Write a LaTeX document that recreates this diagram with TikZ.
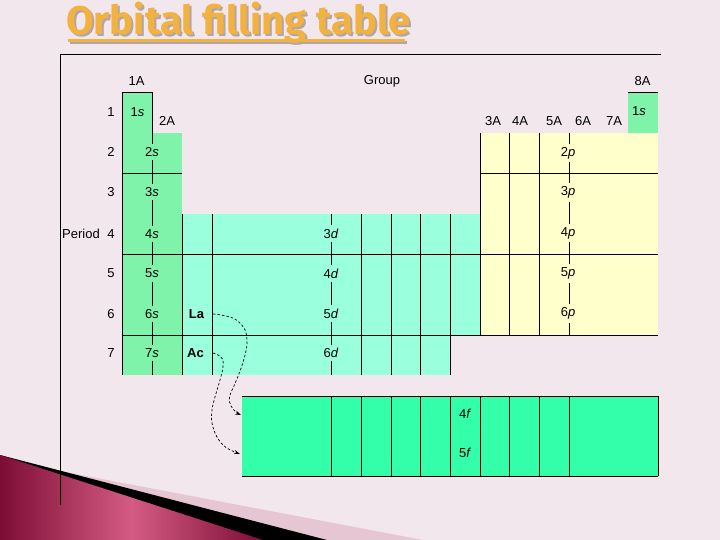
\documentclass[tikz,border=0pt]{standalone}
\usepackage{fontspec}
\setmainfont{Liberation Sans}
\newfontfamily\titlefont{Fira Sans}
\usetikzlibrary{arrows.meta}
\definecolor{bgpink}{RGB}{243,231,238}
\definecolor{rosy}{RGB}{230,198,211}
\definecolor{maroonD}{RGB}{125,12,52}
\definecolor{maroonL}{RGB}{212,92,132}
\definecolor{sgreen}{RGB}{128,243,170}
\definecolor{dcol}{RGB}{153,255,221}
\definecolor{pcol}{RGB}{255,255,204}
\definecolor{fcol}{RGB}{51,255,170}
\definecolor{torange}{RGB}{242,178,64}
\definecolor{tshadow}{RGB}{178,165,170}
\begin{document}
\begin{tikzpicture}[x=1pt,y=-1pt,
  lbl/.style={font=\fontsize{13}{15}\selectfont, inner sep=1pt},
  cut/.style={lbl, inner xsep=1pt, inner ysep=3.5pt},
  gridline/.style={line width=0.9pt, black},
  arr/.style={line width=0.7pt, dash pattern=on 2.5pt off 2pt, -{Stealth[length=6pt,width=4pt]}},
  ttl/.style={font=\titlefont\bfseries\fontsize{40}{44}\selectfont, inner sep=0pt, anchor=base west}]
% background
\fill[bgpink] (0,0) rectangle (720,540);
\useasboundingbox (0,0) rectangle (720,540);
% bottom-left decoration
\fill[rosy] (0,459.6) -- (423,540) -- (0,540) -- cycle;
\fill[black] (0,455) -- (327,540) -- (0,540) -- cycle;
\shade[left color=maroonD, right color=maroonD, middle color=maroonL] (0,455) -- (263,540) -- (0,540) -- cycle;
% title
\node[ttl, text=tshadow] (titleS) at (68,36.5) {Orbital filling table};
\fill[tshadow] (70,41.5) rectangle (407,44);
\node[ttl, text=torange] (title) at (66,34.5) {Orbital filling table};
\fill[torange] (68,39.5) rectangle (405,42);
% frame
\draw[gridline] (60,505) -- (60,54) -- (661,54);
% fills
\fill[sgreen] (122,92) rectangle (152,375);
\fill[sgreen] (152,133) rectangle (182,375);
\fill[sgreen] (628,92) rectangle (658,133);
\fill[dcol] (182,214) rectangle (480,335);
\fill[dcol] (182,335) rectangle (450,375);
\fill[pcol] (480,133) rectangle (658,335);
\fill[fcol] (242,396) rectangle (658,476);
% lines s block
\draw[gridline] (122,375) -- (122,92) -- (152,92) -- (152,375);
\draw[gridline] (628,92) -- (658,92);
\draw[gridline] (122,173) -- (182,173);
\draw[gridline] (480,173) -- (658,173);
\draw[gridline] (122,254) -- (658,254);
\draw[gridline] (122,335) -- (658,335);
% d block verticals
\foreach \x in {182,212,331,361,391,420,450} \draw[gridline] (\x,214) -- (\x,375);
% p block verticals
\foreach \x in {480,509,539,569} \draw[gridline] (\x,133) -- (\x,335);
% f block
\draw[gridline] (242,396) -- (658,396);
\draw[gridline] (242,476) -- (658,476);
\foreach \x in {331,361,391,420,450,480,509,539,569,658} \draw[gridline] (\x,396) -- (\x,476);
% header labels
\node[lbl] (g1A) at (136.5,81) {1A};
\node[lbl] (group) at (382,81) {Group};
\node[lbl] (g8A) at (642.5,81) {8A};
\node[lbl] (g2A) at (167,121) {2A};
\node[lbl] (g3A) at (493,121) {3A};
\node[lbl] (g4A) at (520,121) {4A};
\node[lbl] (g5A) at (554,121) {5A};
\node[lbl] (g6A) at (583,121) {6A};
\node[lbl] (g7A) at (614,121) {7A};
% period labels
\node[lbl] (p1) at (111,112) {1};
\node[lbl] (p2) at (111,152) {2};
\node[lbl] (p3) at (111,192) {3};
\node[lbl] (p4) at (111,234) {4};
\node[lbl, anchor=east] (period) at (101,234) {Period};
\node[lbl] (p5) at (111,273) {5};
\node[lbl] (p6) at (111,314) {6};
\node[lbl] (p7) at (111,353) {7};
% s labels
\node[lbl, fill=sgreen] (s1) at (137.5,112) {1\textit{s}};
\node[lbl, fill=sgreen] (s1b) at (639,111) {1\textit{s}};
\node[cut, fill=sgreen] (s2) at (152,152) {2\textit{s}};
\node[cut, fill=sgreen] (s3) at (152,192) {3\textit{s}};
\node[cut, fill=sgreen] (s4) at (152,234) {4\textit{s}};
\node[cut, fill=sgreen] (s5) at (152,273.5) {5\textit{s}};
\node[cut, fill=sgreen] (s6) at (152,314) {6\textit{s}};
\node[cut, fill=sgreen] (s7) at (152,353) {7\textit{s}};
% d labels
\node[lbl, font=\fontsize{13}{15}\selectfont\bfseries] (La) at (196.5,314.5) {La};
\node[lbl, font=\fontsize{13}{15}\selectfont\bfseries] (Ac) at (195.5,353.5) {Ac};
\node[cut, fill=dcol] (d3) at (331,233.5) {3\textit{d}};
\node[cut, fill=dcol] (d4) at (331,273.5) {4\textit{d}};
\node[cut, fill=dcol] (d5) at (331,313.5) {5\textit{d}};
\node[cut, fill=dcol] (d6) at (331,353) {6\textit{d}};
% p labels
\node[cut, fill=pcol] (pp2) at (568,153) {2\textit{p}};
\node[cut, fill=pcol] (pp3) at (568,192.5) {3\textit{p}};
\node[cut, fill=pcol] (pp4) at (568,233) {4\textit{p}};
\node[cut, fill=pcol] (pp5) at (568,273.5) {5\textit{p}};
\node[cut, fill=pcol] (pp6) at (568,313.5) {6\textit{p}};
% f labels
\node[cut, fill=fcol] (f4lbl) at (465,413.5) {4\textit{f}};
\node[cut, fill=fcol] (f5lbl) at (465,452.5) {5\textit{f}};
% arrows
\coordinate (laS) at (213,314);
\coordinate (acS) at (213,353);
\coordinate (f4) at (241,415);
\coordinate (f5) at (240,454);
\draw[arr] plot[smooth, tension=0.6] coordinates {(laS) (221,315) (234,318.5) (243,326.5) (246.5,335) (246.5,348.5) (241.5,367) (235,383.5) (229.5,397) (231,406) (236,412) (f4)};
\draw[arr] plot[smooth, tension=0.6] coordinates {(acS) (218,355) (222.5,359) (223,367) (220,380) (215,397) (212,410) (212,423) (217,437) (226,447.5) (f5)};
\end{tikzpicture}
\end{document}
